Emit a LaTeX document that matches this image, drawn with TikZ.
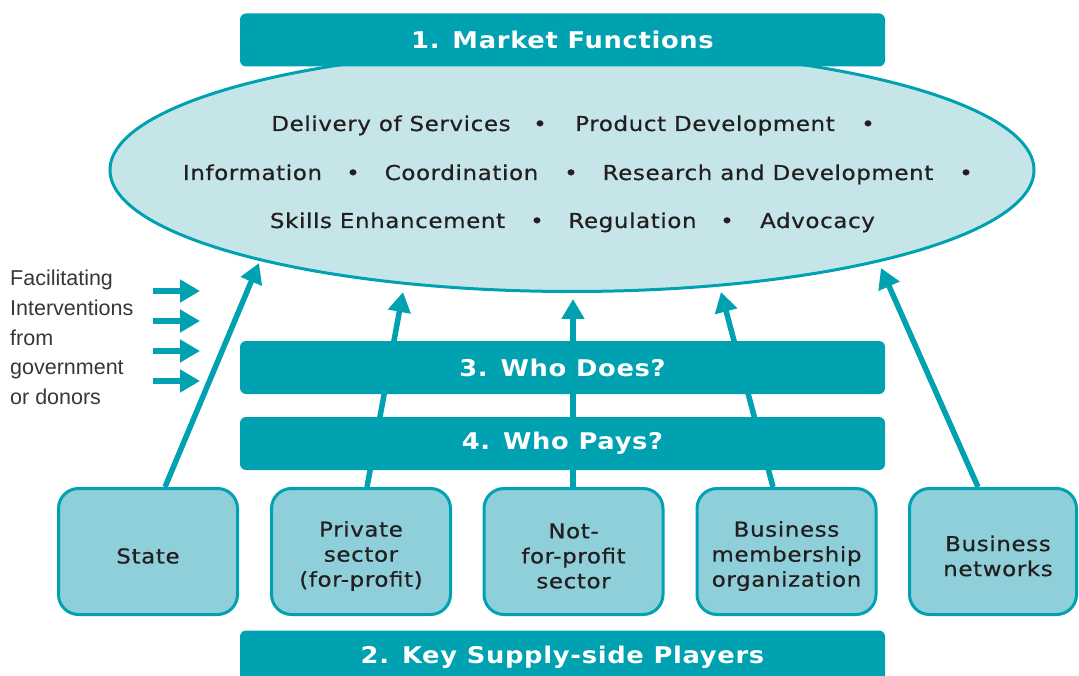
\documentclass[tikz,border=0pt]{standalone}
\usepackage{fontspec}
\setmainfont{DejaVu Sans}
\newfontfamily\bodyf[LetterSpace=3,FakeStretch=1.12,FakeBold=0.6]{DejaVu Sans}
\newfontfamily\barf[LetterSpace=3,FakeStretch=1.12]{DejaVu Sans Bold}
\newfontfamily\leftf{Liberation Sans}
\usetikzlibrary{shapes.geometric,arrows.meta}
\definecolor{teal1}{RGB}{0,161,176}
\definecolor{ellfill}{RGB}{198,229,233}
\definecolor{boxfill}{RGB}{142,207,217}
\definecolor{txtdark}{RGB}{35,31,32}
\definecolor{txtgray}{RGB}{55,55,55}
\begin{document}
\begin{tikzpicture}[x=1pt,y=-1pt,
  bar/.style={fill=teal1, rounded corners=6pt, minimum width=645pt, minimum height=53pt, inner sep=0pt, text=white, font=\barf\fontsize{23}{28}\selectfont},
  player/.style={draw=teal1, line width=3pt, fill=boxfill, rounded corners=20pt, minimum width=179pt, minimum height=126pt, inner sep=0pt},
  ptext/.style={align=center, inner sep=0pt, text=txtdark, font=\bodyf\fontsize{20.5}{25}\selectfont},
  fn/.style={text=txtdark, font=\bodyf\fontsize{20.5}{24}\selectfont, inner sep=0pt, anchor=base},
  arr/.style={draw=teal1, line width=5.5pt, -{Triangle[length=20pt,width=22pt]}},
  sarr/.style={draw=teal1, line width=6.5pt, -{Triangle[length=20pt,width=22pt]}},
]
\useasboundingbox (0,0) rectangle (1079,676);
\clip (0,0) rectangle (1079,676);

% ellipse of market functions
\node[draw=teal1, line width=3pt, fill=ellfill, ellipse, minimum width=924pt, minimum height=243pt, inner sep=0pt] (mf) at (572,170) {};

% top bar
\node[bar] (b1) at (562.5,40) {1. Market Functions};

% functions text
\node[fn] (w11) at (391,131) {Delivery of Services};
\node[fn] (d11) at (540,131) {•};
\node[fn] (w12) at (705,131) {Product Development};
\node[fn] (d12) at (868,131) {•};
\node[fn] (w21) at (252.5,180) {Information};
\node[fn] (d21) at (353,180) {•};
\node[fn] (w22) at (461.5,180) {Coordination};
\node[fn] (d22) at (571,180) {•};
\node[fn] (w23) at (768,180) {Research and Development};
\node[fn] (d23) at (966,180) {•};
\node[fn] (w31) at (387.5,228) {Skills Enhancement};
\node[fn] (d31) at (537,228) {•};
\node[fn] (w32) at (632.5,228) {Regulation};
\node[fn] (d32) at (727,228) {•};
\node[fn] (w33) at (817.5,228) {Advocacy};

% left label and arrows
\node[anchor=north west, align=left, inner sep=0pt, font=\leftf\fontsize{21.5}{29.7}\selectfont, text=txtgray] (lbl) at (10,270) {Facilitating\\Interventions\\from\\government\\or donors};
\coordinate (la1) at (153,291); \coordinate (lb1) at (200,291);
\coordinate (la2) at (153,321); \coordinate (lb2) at (200,321);
\coordinate (la3) at (153,351); \coordinate (lb3) at (200,351);
\coordinate (la4) at (153,381); \coordinate (lb4) at (200,381);
\draw[sarr] (la1) -- (lb1);
\draw[sarr] (la2) -- (lb2);
\draw[sarr] (la3) -- (lb3);
\draw[sarr] (la4) -- (lb4);

% players
\node[player] (p1) at (148,551.5) {};
\node[player] (p2) at (361,551.5) {};
\node[player] (p3) at (573.5,551.5) {};
\node[player] (p4) at (786.5,551.5) {};
\node[player, minimum width=167pt] (p5) at (993,551.5) {};
\node[ptext] (p1t) at (148,556) {State};
\node[ptext] (p2t) at (361,556) {Private\\sector\\(for-profit)};
\node[ptext] (p3t) at (573.5,556) {Not-\\for-profit\\sector};
\node[ptext] (p4t) at (786.5,556) {Business\\membership\\organization};
\node[ptext] (p5t) at (998,556) {Business\\networks};

% arrows to the market functions
\coordinate (t1) at (259,263);
\coordinate (t2) at (403,292);
\coordinate (t3) at (573,299);
\coordinate (t4) at (721,292);
\coordinate (t5) at (881,268);
\draw[arr] ([xshift=17pt]p1.north) -- (t1);
\draw[arr] ([xshift=6pt]p2.north) -- (t2);
\draw[arr] ([xshift=-0.5pt]p3.north) -- (t3);
\draw[arr] ([xshift=-13.5pt]p4.north) -- (t4);
\draw[arr] ([xshift=-15pt]p5.north) -- (t5);

% middle and bottom bars
\node[bar] (b3) at (562.5,367.5) {3. Who Does?};
\node[bar] (b4) at (562.5,443.5) {4. Who Pays?};
\node[bar] (b2) at (562.5,657) {2. Key Supply-side Players};
\end{tikzpicture}
\end{document}
